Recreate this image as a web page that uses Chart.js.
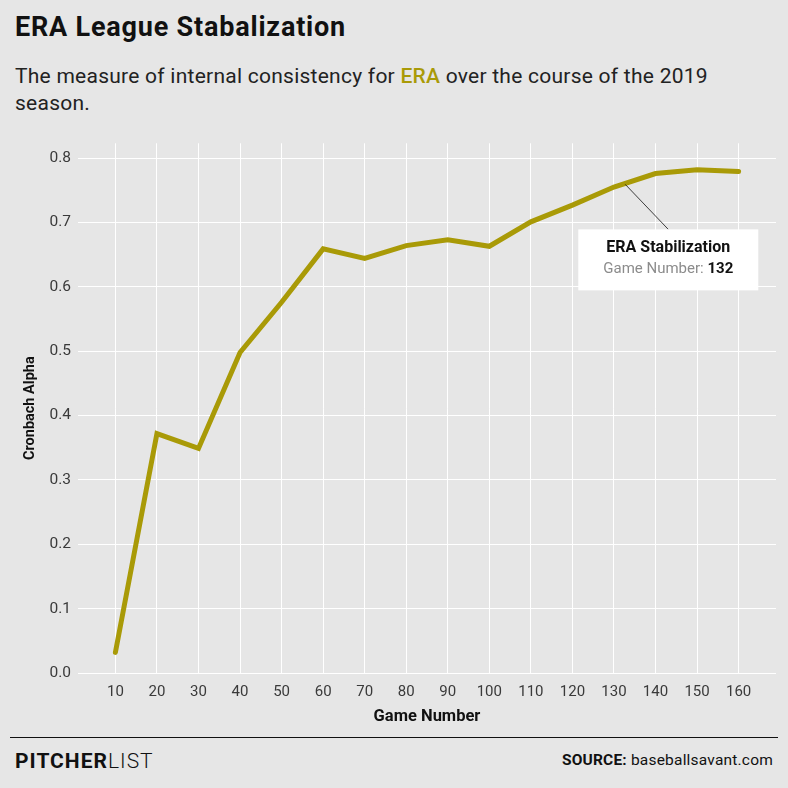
<!DOCTYPE html>
<html>
<head>
<meta charset="utf-8">
<script src="https://cdn.jsdelivr.net/npm/chart.js@4"></script>
<style>
  html, body { margin: 0; padding: 0; background: #e6e6e6; }
  body { width: 788px; height: 788px; position: relative; overflow: hidden; font-family: Roboto, sans-serif; color: #111; }
  #title { position: absolute; left: 15px; top: 11px; font-size: 27px; font-weight: 700; letter-spacing: 0.8px; }
  #subtitle { position: absolute; left: 15px; top: 63px; width: 720px; font-size: 21px; line-height: 27px; letter-spacing: 0.25px; color: #222; }
  #subtitle .hl { color: #a99a07; font-weight: 500; }
  #wrap { position: absolute; left: 0; top: 127px; width: 788px; height: 603px; }
  #rule { position: absolute; left: 10px; top: 737px; width: 768px; height: 1px; background: #111; }
  #brand { position: absolute; left: 15px; top: 749px; font-size: 21px; letter-spacing: 1px; }
  #brand b { font-weight: 700; }
  #brand span { font-weight: 300; }
  #source { position: absolute; right: 15px; top: 751px; font-size: 15.5px; letter-spacing: 0.2px; }
  #source b { font-weight: 700; }
</style>
</head>
<body>
<div id="title">ERA League Stabalization</div>
<div id="subtitle">The measure of internal consistency for <span class="hl">ERA</span> over the course of the 2019 season.</div>
<div id="wrap"><canvas id="eraChart"></canvas></div>
<div id="rule"></div>
<div id="brand"><b>PITCHER</b><span>LIST</span></div>
<div id="source"><b>SOURCE:</b> baseballsavant.com</div>

<script>
const games = [10, 20, 30, 40, 50, 60, 70, 80, 90, 100, 110, 120, 130, 140, 150, 160];
const alpha = [0.032, 0.372, 0.349, 0.498, 0.576, 0.659, 0.644, 0.664, 0.673, 0.663, 0.701, 0.727, 0.755, 0.776, 0.782, 0.779];
const xTicks = [10, 20, 30, 40, 50, 60, 70, 80, 90, 100, 110, 120, 130, 140, 150, 160];
const yTicks = [0, 0.1, 0.2, 0.3, 0.4, 0.5, 0.6, 0.7, 0.8];
const stabilizationGame = 132;

const lineColor = "#a99a07";

// callout box for the stabilization point
const calloutPlugin = {
    id: "callout",
    afterDatasetsDraw(chart) {
        const ctx = chart.ctx;
        const xs = chart.scales.x;
        const ys = chart.scales.y;

        // find the segment the stabilization game sits on
        let i = 0;
        while (i < games.length - 2 && games[i + 1] < stabilizationGame) i++;
        const t = (stabilizationGame - games[i]) / (games[i + 1] - games[i]);
        const v = alpha[i] + t * (alpha[i + 1] - alpha[i]);
        const px = xs.getPixelForValue(stabilizationGame);
        const py = ys.getPixelForValue(v);

        const boxW = 180, boxH = 61;
        const cx = px + 46;
        const top = py + 45;

        ctx.save();
        ctx.strokeStyle = "#111";
        ctx.lineWidth = 0.8;
        ctx.beginPath();
        ctx.moveTo(px + 3, py);
        ctx.lineTo(cx, top);
        ctx.stroke();

        ctx.fillStyle = "#ffffff";
        ctx.fillRect(cx - boxW / 2, top, boxW, boxH);

        ctx.textAlign = "center";
        ctx.textBaseline = "middle";
        ctx.fillStyle = "#111";
        ctx.font = "700 16px Roboto";
        ctx.fillText("ERA Stabilization", cx, top + 19);

        ctx.font = "400 15px Roboto";
        const label = "Game Number: ";
        const lw = ctx.measureText(label).width;
        ctx.font = "700 15px Roboto";
        const nw = ctx.measureText(String(stabilizationGame)).width;
        const start = cx - (lw + nw) / 2;
        ctx.textAlign = "left";
        ctx.font = "400 15px Roboto";
        ctx.fillStyle = "#8c8c8c";
        ctx.fillText(label, start, top + 40);
        ctx.font = "700 15px Roboto";
        ctx.fillStyle = "#111";
        ctx.fillText(String(stabilizationGame), start + lw, top + 40);
        ctx.restore();
    },
};

new Chart(document.getElementById("eraChart"), {
    type: "line",
    data: {
        datasets: [
            {
                label: "ERA",
                data: games.map((g, i) => ({ x: g, y: alpha[i] })),
                borderColor: lineColor,
                borderWidth: 5,
                borderCapStyle: "round",
                borderJoinStyle: "miter",
                pointRadius: 0,
                tension: 0,
            },
        ],
    },
    options: {
        responsive: true,
        maintainAspectRatio: false,
        animation: false,
        layout: {
            padding: { top: 0, right: 12, bottom: 0, left: 0 },
        },
        plugins: {
            legend: { display: false },
            tooltip: { enabled: false },
        },
        scales: {
            x: {
                type: "linear",
                min: 1,
                max: 169,
                afterBuildTicks: (s) => { s.ticks = xTicks.map((v) => ({ value: v })); },
                afterFit: (s) => { s.height = 57; },
                grid: { color: "#ffffff", lineWidth: 1, drawTicks: false },
                border: { display: false },
                ticks: {
                    padding: 10,
                    color: "#3a3a3a",
                    font: { family: "Roboto", size: 15 },
                    maxRotation: 0,
                },
                title: {
                    display: true,
                    text: "Game Number",
                    color: "#111",
                    font: { family: "Roboto", size: 16.5, weight: "700" },
                    padding: { top: 0, bottom: 3 },
                },
            },
            y: {
                min: 0,
                max: 0.823,
                afterBuildTicks: (s) => { s.ticks = yTicks.map((v) => ({ value: v })); },
                afterFit: (s) => { s.width = 78; },
                grid: { color: "#ffffff", lineWidth: 1, drawTicks: false },
                border: { display: false },
                ticks: {
                    padding: 7,
                    color: "#3a3a3a",
                    font: { family: "Roboto", size: 15.5 },
                    callback: (v) => Number(v).toFixed(1),
                },
                title: {
                    display: true,
                    text: "Cronbach Alpha",
                    color: "#111",
                    font: { family: "Roboto", size: 14.5, weight: "700" },
                    padding: { top: 22, bottom: 0 },
                },
            },
        },
    },
    plugins: [calloutPlugin],
});
</script>
</body>
</html>
